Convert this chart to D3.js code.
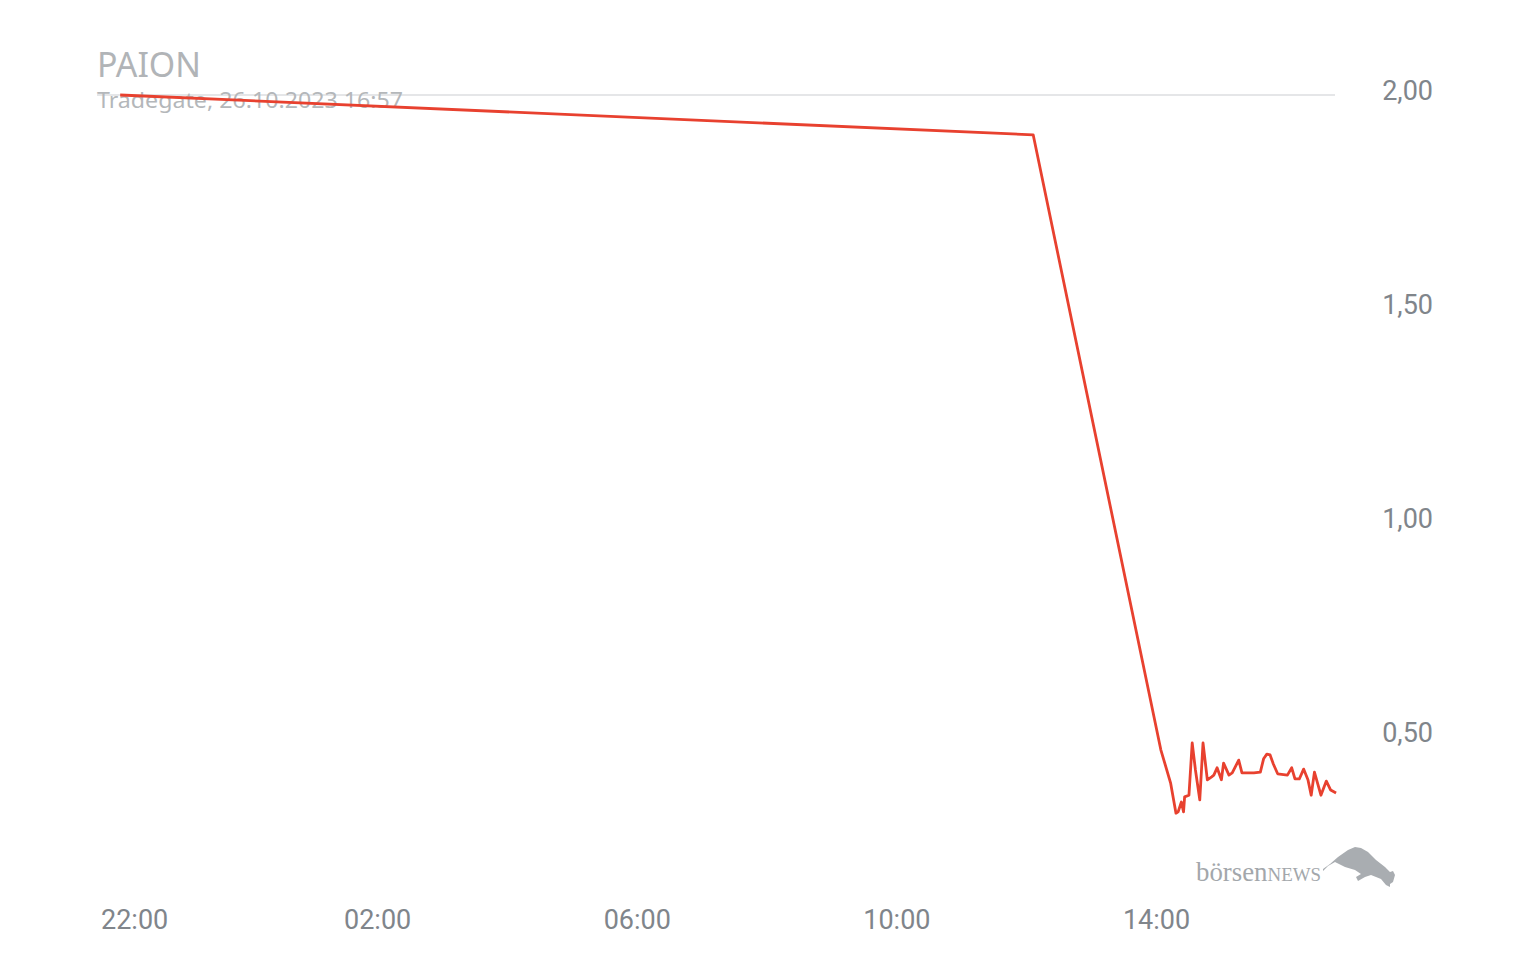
<!DOCTYPE html>
<html>
<head>
<meta charset="utf-8">
<script src="https://cdn.jsdelivr.net/npm/d3@7"></script>
<style>
  body { margin: 0; background: #fff; }
  svg { display: block; }
</style>
</head>
<body>
<div id="chart"></div>
<script>
// chart texts
var title = "PAION";
var subtitle = "Tradegate, 26.10.2023 16:57";

// price series (time, EUR)
var times = [
    "2023-10-25 22:02", "2023-10-26 12:06", "2023-10-26 14:04", "2023-10-26 14:13", "2023-10-26 14:18",
    "2023-10-26 14:20", "2023-10-26 14:23", "2023-10-26 14:25", "2023-10-26 14:26", "2023-10-26 14:30",
    "2023-10-26 14:33", "2023-10-26 14:36", "2023-10-26 14:40", "2023-10-26 14:43", "2023-10-26 14:47",
    "2023-10-26 14:51", "2023-10-26 14:53", "2023-10-26 14:56", "2023-10-26 15:00", "2023-10-26 15:02",
    "2023-10-26 15:07", "2023-10-26 15:10", "2023-10-26 15:16", "2023-10-26 15:19", "2023-10-26 15:30",
    "2023-10-26 15:36", "2023-10-26 15:39", "2023-10-26 15:42", "2023-10-26 15:45", "2023-10-26 15:48",
    "2023-10-26 15:52", "2023-10-26 16:01", "2023-10-26 16:05", "2023-10-26 16:08", "2023-10-26 16:12",
    "2023-10-26 16:16", "2023-10-26 16:20", "2023-10-26 16:23", "2023-10-26 16:26", "2023-10-26 16:32",
    "2023-10-26 16:37", "2023-10-26 16:41", "2023-10-26 16:46"
];
var prices = [
    2.00, 1.907, 0.470, 0.393, 0.322,
    0.325, 0.348, 0.325, 0.360, 0.364,
    0.486, 0.423, 0.353, 0.486, 0.400,
    0.407, 0.411, 0.428, 0.400, 0.439,
    0.411, 0.416, 0.446, 0.416, 0.416,
    0.418, 0.449, 0.460, 0.458, 0.437,
    0.414, 0.411, 0.428, 0.402, 0.402,
    0.425, 0.400, 0.364, 0.418, 0.364,
    0.397, 0.376, 0.369
];

// axis ticks
var xTicks = ["2023-10-25 22:00", "2023-10-26 02:00", "2023-10-26 06:00", "2023-10-26 10:00", "2023-10-26 14:00"];
var yTicks = [0.5, 1.0, 1.5, 2.0];

var width = 1536, height = 960;
var plotLeft = 97, plotRight = 1335;

var parseTime = d3.timeParse("%Y-%m-%d %H:%M");
var data = times.map(function (t, i) { return {date: parseTime(t), value: prices[i]}; });

var svg = d3.select("#chart").append("svg")
    .attr("width", width)
    .attr("height", height);

// scales
var x = d3.scaleTime()
    .domain([parseTime(xTicks[0]), parseTime(xTicks[4])])
    .range([118, 1156.5]);

var y = d3.scaleLinear()
    .domain([0.5, 2.0])
    .range([737, 95]);

var fmtY = function (v) { return d3.format(".2f")(v).replace(".", ","); };

// only top grid line is visible
svg.append("line")
    .attr("x1", plotLeft).attr("x2", plotRight)
    .attr("y1", y(2.0)).attr("y2", y(2.0))
    .attr("stroke", "#dcdee0")
    .attr("stroke-width", 1.5);

// title
svg.append("text")
    .attr("x", 97).attr("y", 77)
    .attr("font-family", "'Noto Sans', sans-serif")
    .attr("font-size", 35)
    .attr("fill", "#b1b4b7")
    .attr("textLength", 104)
    .attr("lengthAdjust", "spacingAndGlyphs")
    .text(title);

svg.append("text")
    .attr("x", 97).attr("y", 108)
    .attr("font-family", "'Noto Sans', sans-serif")
    .attr("font-size", 22)
    .attr("fill", "#b4b7ba")
    .attr("textLength", 306)
    .attr("lengthAdjust", "spacingAndGlyphs")
    .text(subtitle);

// y axis labels (right side)
svg.append("g").selectAll("text")
    .data(yTicks)
    .enter().append("text")
    .attr("x", 1433)
    .attr("y", function (d) { return y(d) + 5; })
    .attr("text-anchor", "end")
    .attr("font-family", "Roboto, sans-serif")
    .attr("font-size", 27)
    .attr("fill", "#80858b")
    .text(fmtY);

// x axis labels
var xLabels = svg.append("g").selectAll("text")
    .data(xTicks.map(parseTime))
    .enter().append("text")
    .attr("x", function (d) { return x(d); })
    .attr("y", 929)
    .attr("text-anchor", "middle")
    .attr("font-family", "Roboto, sans-serif")
    .attr("font-size", 27)
    .attr("fill", "#80858b")
    .text(d3.timeFormat("%H:%M"));

// keep first label inside the chart area
xLabels.each(function (d) {
    var w = this.getComputedTextLength();
    var cx = Math.max(x(d), 101 + w / 2);
    d3.select(this).attr("x", cx);
});

// price line
var line = d3.line()
    .x(function (d) { return x(d.date); })
    .y(function (d) { return y(d.value); });

svg.append("path")
    .datum(data)
    .attr("d", line)
    .attr("fill", "none")
    .attr("stroke", "#e8412f")
    .attr("stroke-width", 2.8)
    .attr("stroke-linejoin", "round");

// boersenNEWS logo
var logo = svg.append("g");
var logoText = logo.append("text")
    .attr("x", 1196).attr("y", 881)
    .attr("font-family", "'Liberation Serif', serif")
    .attr("font-size", 27)
    .attr("fill", "#a3a7ab")
    .attr("textLength", 125)
    .attr("lengthAdjust", "spacingAndGlyphs");
logoText.append("tspan").text("börsen");
logoText.append("tspan").attr("font-size", 19).text("NEWS");

logo.append("path")
    .attr("d", "M1323,869 L1330,864 L1338,857 L1348,850 L1355,847 L1361,848 L1368,852 L1376,860 L1385,867 L1390,872 L1393,871 L1395,875 L1393,882 L1390,884 L1390,887 L1386,885 L1381,879 L1371,875 L1365,877 L1358,881 L1356,877 L1361,874 L1355,870 L1345,867 L1335,862 L1328,866 L1323,871 Z")
    .attr("fill", "#a9adb1");
</script>
</body>
</html>
